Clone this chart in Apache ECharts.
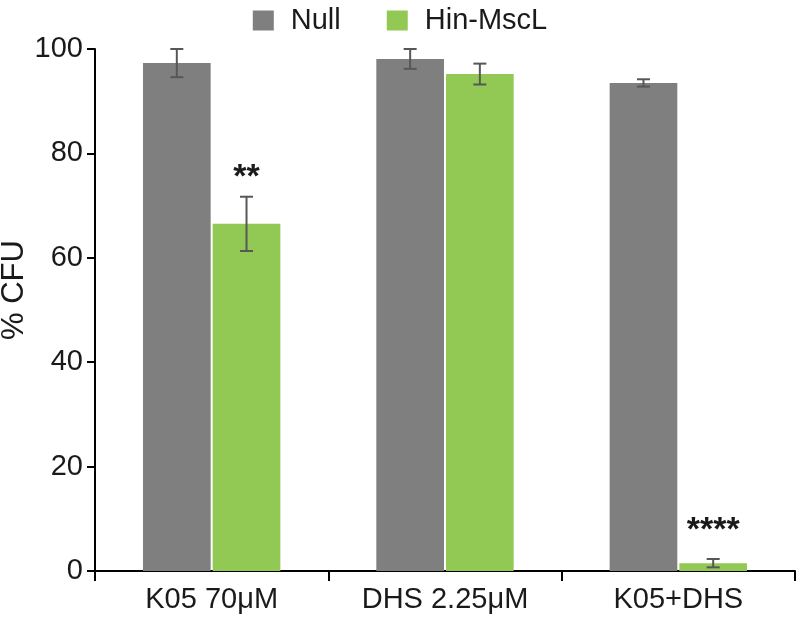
<!DOCTYPE html>
<html>
<head>
<meta charset="utf-8">
<script src="https://cdn.jsdelivr.net/npm/echarts@6/dist/echarts.min.js"></script>
<style>html,body{margin:0;padding:0;background:#fff;}#c{width:800px;height:618px;}</style>
</head>
<body>
<div id="c"></div>
<script>
const categories = ['K05 70μM', 'DHS 2.25μM', 'K05+DHS'];
const seriesNames = ['Null', 'Hin-MscL'];
const nullValues = [97.3, 98.1, 93.5];
const nullErrors = [2.7, 1.9, 0.7];
const mscValues = [66.5, 95.2, 1.5];
const mscErrors = [5.2, 2.0, 0.8];
const mscSigLabels = ['**', '', '****'];
const mscSigY = [75.4, null, 7.8];
const yTicks = [0, 20, 40, 60, 80, 100];

const GREY = '#7f7f7f', GREEN = '#92c955', ERR = '#575757';
const BAR_FRAC = 0.29, GAP_FRAC = 0.03;

function errSeries(values, errors, side) {
  return {
    type: 'custom',
    silent: true,
    z: 5,
    data: values.map((v, i) => [i, v, errors[i]]),
    renderItem: function (params, api) {
      const i = api.value(0), v = api.value(1), e = api.value(2);
      const band = api.size([1, 0])[0];
      const bw = band * BAR_FRAC;
      const off = side * (bw + bw * GAP_FRAC) / 2;
      const c = api.coord([i, v]);
      const x = c[0] + off;
      const yt = api.coord([i, v + e])[1];
      const yb = api.coord([i, Math.max(0, v - e)])[1];
      const cap = 6.5;
      const st = {stroke: ERR, lineWidth: 2};
      return {
        type: 'group',
        children: [
          {type: 'line', shape: {x1: x, y1: yt, x2: x, y2: yb}, style: st},
          {type: 'line', shape: {x1: x - cap, y1: yt, x2: x + cap, y2: yt}, style: st},
          {type: 'line', shape: {x1: x - cap, y1: yb, x2: x + cap, y2: yb}, style: st}
        ]
      };
    }
  };
}

const sigData = [];
mscSigLabels.forEach((s, i) => { if (s) sigData.push([i, mscSigY[i], s]); });

const option = {
  animation: false,
  backgroundColor: '#fff',
  textStyle: {fontFamily: 'Liberation Sans, Arial, sans-serif'},
  legend: {
    top: 1,
    left: 'center',
    itemWidth: 21,
    itemHeight: 20,
    itemGap: 46,
    icon: 'rect',
    data: seriesNames,
    textStyle: {fontSize: 29, color: '#1a1a1a', padding: [0, 0, 0, 12]}
  },
  grid: {left: 95, right: 5, top: 49, bottom: 47, containLabel: false, outerBoundsMode: 'none'},
  xAxis: {
    type: 'category',
    data: categories,
    axisLine: {lineStyle: {color: '#000', width: 2}},
    axisTick: {show: true, length: 10, lineStyle: {color: '#000', width: 2}},
    axisLabel: {fontSize: 29, color: '#1a1a1a', margin: 14}
  },
  yAxis: {
    type: 'value',
    min: yTicks[0],
    max: yTicks[yTicks.length - 1],
    interval: 20,
    name: '% CFU',
    nameLocation: 'middle',
    nameGap: 65,
    nameMoveOverlap: false,
    nameRotate: 90,
    nameTextStyle: {fontSize: 31, color: '#1a1a1a', padding: [0, 0, 0, 40]},
    axisLine: {show: true, lineStyle: {color: '#000', width: 2}},
    axisTick: {show: true, length: 8, lineStyle: {color: '#000', width: 2}},
    axisLabel: {fontSize: 29, color: '#1a1a1a', margin: 12},
    splitLine: {show: false}
  },
  series: [
    {
      name: seriesNames[0], type: 'bar', data: nullValues,
      barWidth: (BAR_FRAC * 100) + '%', barGap: (GAP_FRAC * 100) + '%',
      itemStyle: {color: GREY}
    },
    {
      name: seriesNames[1], type: 'bar', data: mscValues,
      barWidth: (BAR_FRAC * 100) + '%', barGap: (GAP_FRAC * 100) + '%',
      itemStyle: {color: GREEN}
    },
    errSeries(nullValues, nullErrors, -1),
    errSeries(mscValues, mscErrors, 1),
    {
      type: 'custom',
      silent: true,
      z: 6,
      data: sigData,
      renderItem: function (params, api) {
        const band = api.size([1, 0])[0];
        const bw = band * BAR_FRAC;
        const off = (bw + bw * GAP_FRAC) / 2;
        const c = api.coord([api.value(0), api.value(1)]);
        return {
          type: 'text',
          style: {
            x: c[0] + off, y: c[1],
            text: sigData[params.dataIndex][2],
            fontSize: 34, fontWeight: 'bold', fill: '#1a1a1a',
            align: 'center', verticalAlign: 'middle',
            fontFamily: 'Liberation Sans, Arial, sans-serif'
          }
        };
      }
    }
  ]
};
const chart = echarts.init(document.getElementById('c'), null, {renderer: 'canvas'});
chart.setOption(option);
</script>
</body>
</html>
